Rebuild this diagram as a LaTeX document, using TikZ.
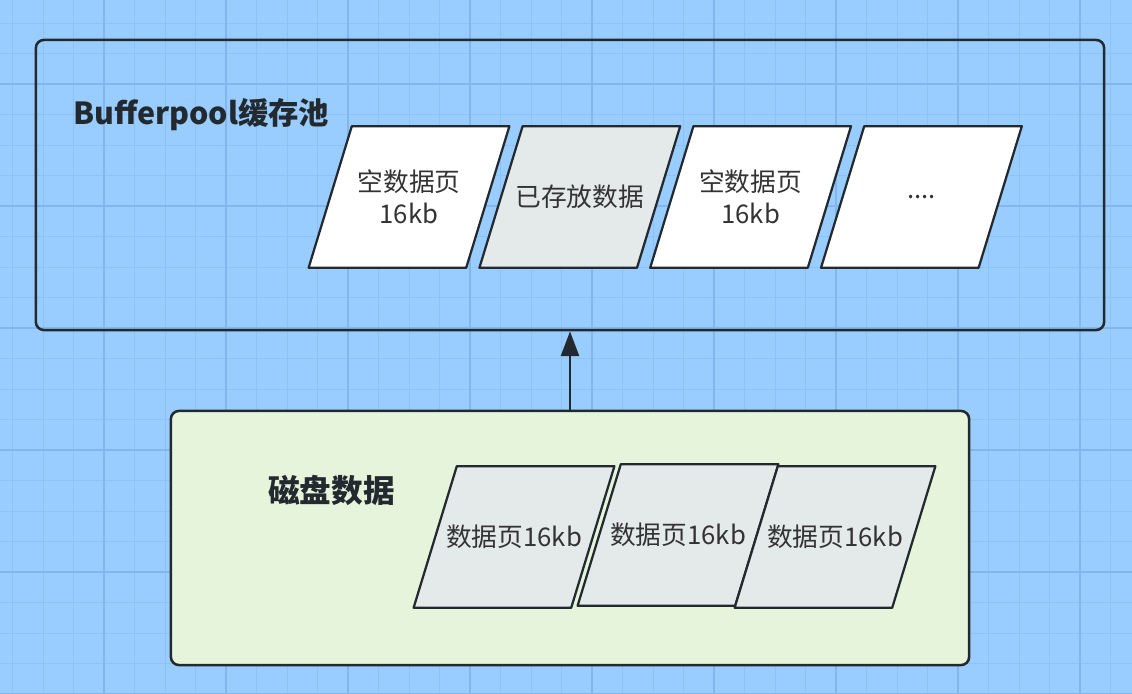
\documentclass[tikz,border=0pt]{standalone}
\usepackage{fontspec}
\setmainfont{Noto Sans CJK SC}
\usetikzlibrary{positioning,arrows.meta}

\definecolor{bgblue}{HTML}{99CCFF}
\definecolor{gridminor}{HTML}{8EC2F4}
\definecolor{gridmajor}{HTML}{82B6EC}
\definecolor{linedark}{HTML}{232A2F}
\definecolor{textdark}{HTML}{333333}
\definecolor{pagegray}{HTML}{E4E9EA}
\definecolor{diskgreen}{HTML}{E6F4DC}

\pgfdeclarelayer{boxes}
\pgfdeclarelayer{pages}
\pgfsetlayers{boxes,pages,main}

\begin{document}
\begin{tikzpicture}[
			x=0.025cm, y=-0.025cm,
			box/.style={draw=linedark, line width=1.8pt, rounded corners=0.2cm},
			page/.style={minimum width=3.925cm, minimum height=3.525cm, inner sep=0pt,
				text=textdark, align=center, font=\fontsize{18.3}{23}\selectfont},
			pageshape/.style={draw=linedark, line width=1.6pt, line join=round},
			title/.style={anchor=west, inner sep=0pt, text=linedark, font=\bfseries\fontsize{22.5}{26}\selectfont}
			]
			\useasboundingbox (0,0) rectangle (1132,694);
			
			% background and grid
			\begin{pgfonlayer}{boxes}
				\begin{scope}
					\clip (0,0) rectangle (1132,694);
					\fill[bgblue] (0,0) rectangle (1132,694);
					\foreach \k in {0,...,37} {
						\draw[gridminor, line width=0.7pt] (12.5+30.5*\k,0) -- (12.5+30.5*\k,694);
					}
					\foreach \k in {0,...,23} {
						\draw[gridminor, line width=0.7pt] (0,-7.5+30.5*\k) -- (1132,-7.5+30.5*\k);
					}
					\foreach \k in {0,...,8} {
						\draw[gridmajor, line width=1pt] (104+122*\k,0) -- (104+122*\k,694);
					}
					\foreach \k in {0,...,5} {
						\draw[gridmajor, line width=1pt] (0,84+122*\k) -- (1132,84+122*\k);
					}
				\end{scope}
			\end{pgfonlayer}
			
			% buffer pool
			\node[box, minimum width=26.7cm, minimum height=7.25cm] (pool) at (570,185) {};
			\node[title, font=\bfseries\fontsize{21.6}{26}\selectfont] (pooltitle) at (73,115) {Bufferpool缓存池};
			\node[page] (p1) at (409,197) {空数据页\\16kb};
			\node[page, right=0.33cm of p1] (p2) {已存放数据};
			\node[page, right=0.33cm of p2] (p3) {空数据页\\16kb};
			\node[page, right=0.33cm of p3] (p4) {....};
			
			% disk
			\begin{pgfonlayer}{boxes}
				\node[box, fill=diskgreen, minimum width=19.95cm, minimum height=6.35cm] (disk) at (570,538) {};
			\end{pgfonlayer}
			\node[title] (disktitle) at (268,490) {磁盘数据};
			\node[page] (d1) at (514,537) {数据页16kb};
			\node[page] (d2) at (678,535) {数据页16kb};
			\node[page] (d3) at (835,537) {数据页16kb};
			
			% slanted pages behind the texts
			\begin{pgfonlayer}{pages}
				\foreach \n/\c in {p1/white, p2/pagegray, p3/white, p4/white, d1/pagegray, d2/pagegray, d3/pagegray} {
					\filldraw[pageshape, fill=\c] ([xshift=-0.54cm]\n.south west) -- ([xshift=-0.54cm]\n.south east)
						-- ([xshift=0.54cm]\n.north east) -- ([xshift=0.54cm]\n.north west) -- cycle;
				}
			\end{pgfonlayer}
			
			\draw[-{Triangle[width=0.45cm, length=0.62cm]}, draw=linedark, fill=linedark, line width=1.8pt] (disk.north) -- (pool.south);
		\end{tikzpicture}
\end{document}
